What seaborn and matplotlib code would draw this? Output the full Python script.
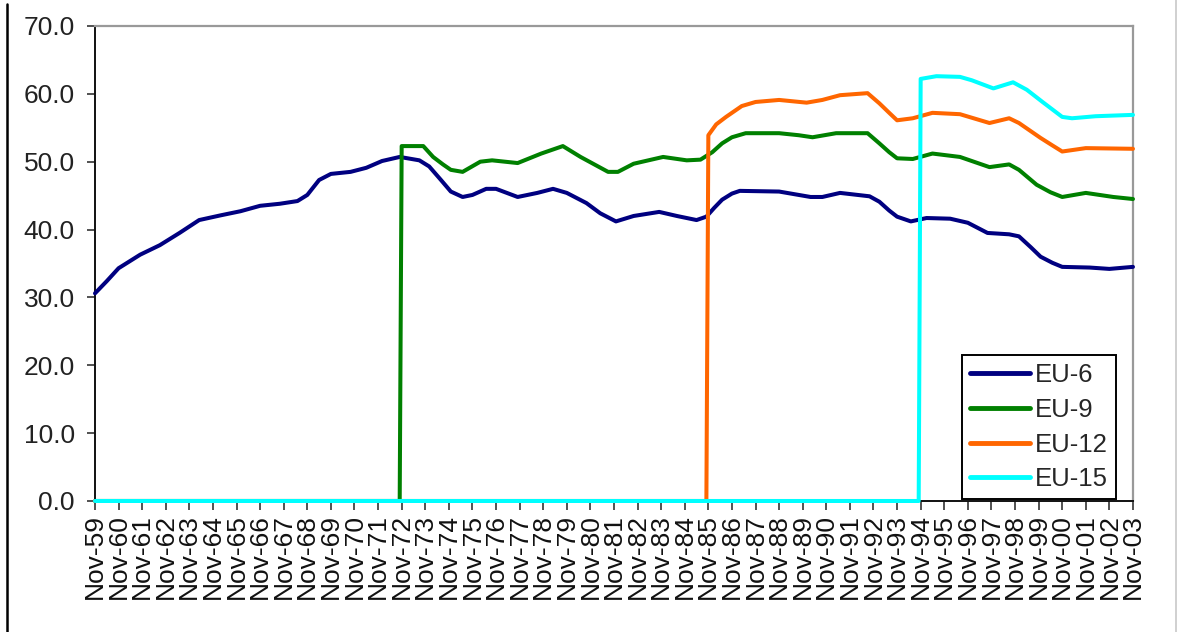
import matplotlib
matplotlib.use("Agg")
import matplotlib.pyplot as plt
from matplotlib.lines import Line2D
import numpy as np
import pandas as pd
import seaborn as sns

# Months elapsed since Nov-1959 and the matching share (%) for each grouping
eu6_month = [0, 6, 12, 23, 33, 43, 53, 64, 74, 84, 94, 103, 108, 114, 120, 130, 138, 146,
             155, 165, 170, 176, 181, 187, 192, 199, 204, 215, 225, 233, 240, 250, 257, 265,
             274, 287, 296, 306, 311, 315, 319, 324, 328, 348, 364, 370, 379, 394, 399, 404,
             408, 415, 423, 435, 444, 454, 465, 470, 476, 481, 487, 492, 506, 516, 528]
eu6_value = [30.6, 32.4, 34.3, 36.3, 37.7, 39.5, 41.4, 42.1, 42.7, 43.5, 43.8, 44.2, 45.1,
             47.3, 48.2, 48.5, 49.1, 50.1, 50.7, 50.2, 49.3, 47.3, 45.6, 44.8, 45.1, 46.0,
             46.0, 44.8, 45.4, 46.0, 45.4, 43.9, 42.4, 41.2, 42.0, 42.6, 42.0, 41.4, 41.9,
             43.2, 44.4, 45.3, 45.7, 45.6, 44.8, 44.8, 45.4, 44.9, 44.1, 42.8, 41.9, 41.2,
             41.7, 41.6, 41.0, 39.5, 39.3, 39.0, 37.4, 36.0, 35.1, 34.5, 34.4, 34.2, 34.5]

eu9_month = [0, 155, 156, 167, 172, 177, 181, 187, 196, 202, 215, 227, 238, 247, 261, 266,
             274, 289, 301, 308, 314, 319, 324, 331, 348, 358, 365, 377, 393, 399, 404, 408,
             416, 426, 440, 455, 465, 470, 479, 486, 492, 504, 518, 528]
eu9_value = [0.0, 0.0, 52.3, 52.3, 50.7, 49.6, 48.8, 48.5, 50.0, 50.2, 49.8, 51.2, 52.3,
             50.7, 48.5, 48.5, 49.7, 50.7, 50.2, 50.3, 51.4, 52.7, 53.6, 54.2, 54.2, 53.9,
             53.6, 54.2, 54.2, 52.7, 51.4, 50.5, 50.4, 51.2, 50.7, 49.2, 49.6, 48.8, 46.6,
             45.5, 44.8, 45.4, 44.8, 44.5]

eu12_month = [0, 311, 312, 316, 321, 329, 336, 348, 362, 370, 379, 393, 399, 404, 408, 416,
              426, 440, 455, 465, 470, 481, 487, 492, 504, 528]
eu12_value = [0.0, 0.0, 53.9, 55.5, 56.6, 58.2, 58.8, 59.1, 58.7, 59.1, 59.8, 60.1, 58.6,
              57.2, 56.1, 56.4, 57.2, 57.0, 55.7, 56.4, 55.7, 53.5, 52.4, 51.5, 52.0, 51.9]

eu15_month = [0, 419, 420, 428, 440, 446, 457, 467, 474, 482, 492, 497, 509, 528]
eu15_value = [0.0, 0.0, 62.2, 62.6, 62.5, 62.0, 60.8, 61.7, 60.6, 58.8, 56.6, 56.4, 56.7,
              56.9]

series_names = ["EU-6", "EU-9", "EU-12", "EU-15"]
series_colors = ["#000080", "#008000", "#FF6600", "#00FFFF"]

tick_years = list(range(59, 100)) + list(range(0, 4))
tick_labels = [f"Nov-{y:02d}" for y in tick_years]
tick_months = [12 * i for i in range(len(tick_labels))]

frames = []
for name, m, v in zip(series_names,
                      [eu6_month, eu9_month, eu12_month, eu15_month],
                      [eu6_value, eu9_value, eu12_value, eu15_value]):
    frames.append(pd.DataFrame({"month": m, "value": v, "series": name}))
df = pd.concat(frames, ignore_index=True)

sns.set_theme(style="white")
plt.rcParams["font.family"] = ["Liberation Sans", "DejaVu Sans"]

fig = plt.figure(figsize=(11.77, 6.32), dpi=100)
ax = fig.add_axes([0.0807, 0.2073, 0.8819, 0.7516])

sns.lineplot(data=df, x="month", y="value", hue="series", hue_order=series_names,
             palette=dict(zip(series_names, series_colors)), linewidth=2.9,
             estimator=None, sort=False, ax=ax)
for line in ax.get_lines():
    line.set_clip_on(False)
    line.set_zorder(3)
    line.set_solid_joinstyle("round")

ax.set_xlim(0, 528)
ax.set_ylim(0, 70)
ax.set_xticks(tick_months)
ax.set_xticklabels(tick_labels, rotation=90, fontsize=19, color="#111111")
ax.set_yticks(np.arange(0, 71, 10))
ax.set_yticklabels([f"{t:.1f}" for t in np.arange(0, 71, 10)], fontsize=19,
                   color="#222222")
ax.set_xlabel("")
ax.set_ylabel("")

ax.tick_params(axis="y", direction="out", length=6, width=1.1, color="#222222", pad=8.5)
ax.tick_params(axis="x", direction="out", length=6.5, width=1.1, color="#222222", pad=3)
ax.tick_params(left=True, bottom=True)

for side in ["left", "bottom"]:
    ax.spines[side].set_color("#111111")
    ax.spines[side].set_linewidth(1.4)
for side in ["top", "right"]:
    ax.spines[side].set_color("#999999")
    ax.spines[side].set_linewidth(1.6)

leg = ax.legend(loc="lower right", bbox_to_anchor=(0.9836, 0.004), borderaxespad=0,
                frameon=True, fancybox=False, edgecolor="black", fontsize=18.5,
                handlelength=2.35, handletextpad=0.2, labelspacing=0.42,
                borderpad=0.3, framealpha=1)
leg.set_zorder(5)
leg.get_frame().set_linewidth(1.4)
for line in leg.get_lines():
    line.set_linewidth(3.5)

# page border lines
fig.add_artist(Line2D([6.5 / 1177, 6.5 / 1177], [0, 1 - 4 / 632], color="black",
                      linewidth=1.8, transform=fig.transFigure))
fig.add_artist(Line2D([1175.5 / 1177, 1175.5 / 1177], [0, 1], color="#c8c8c8",
                      linewidth=1.2, transform=fig.transFigure))

fig.savefig("out.png", dpi=100)
